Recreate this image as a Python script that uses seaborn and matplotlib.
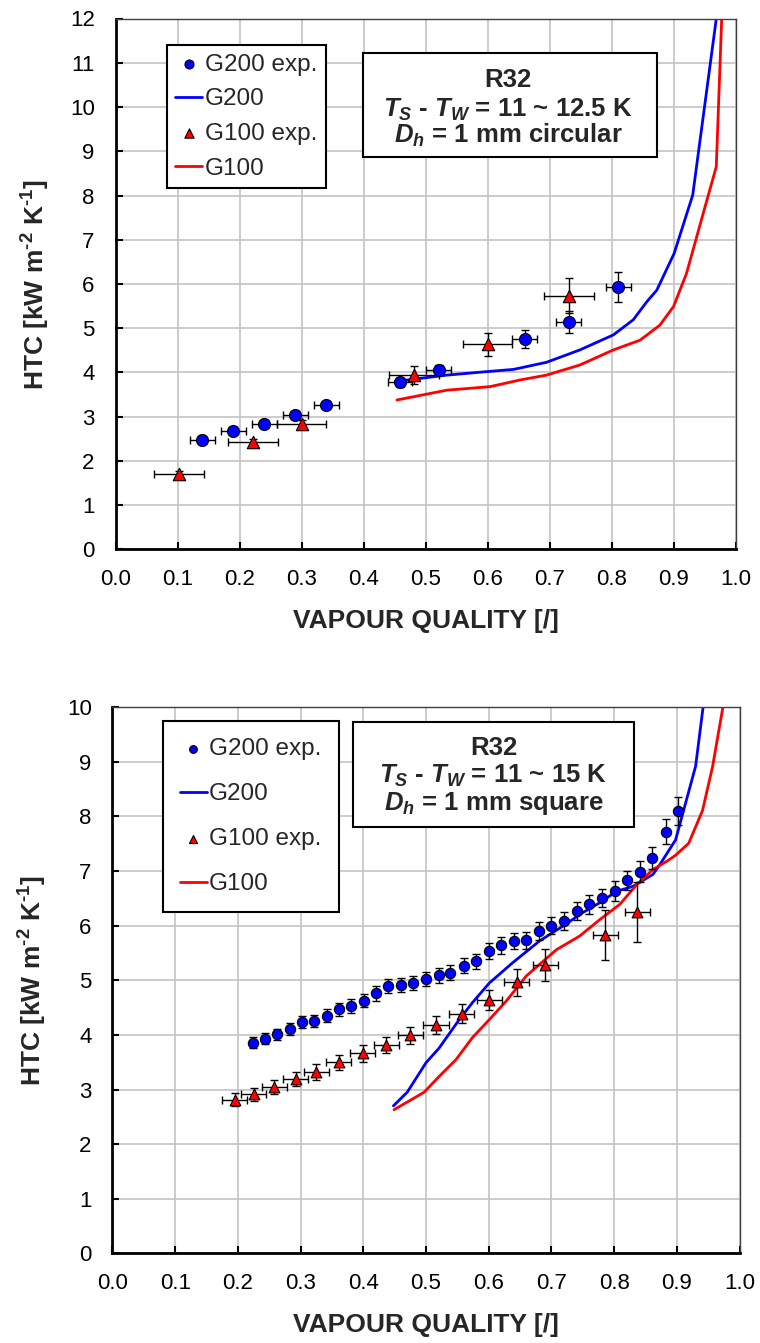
import matplotlib
matplotlib.use("Agg")
import matplotlib.pyplot as plt
import seaborn as sns
from matplotlib.patches import Rectangle

# ---------------- Top panel: Dh = 1 mm circular ----------------
top_g200_exp_x = [0.140, 0.190, 0.240, 0.290, 0.340, 0.459, 0.521, 0.660, 0.731, 0.811]
top_g200_exp_y = [2.48, 2.68, 2.84, 3.05, 3.27, 3.78, 4.06, 4.76, 5.15, 5.93]
top_g200_exp_xerr = [0.02, 0.02, 0.02, 0.02, 0.02, 0.02, 0.02, 0.02, 0.02, 0.02]
top_g200_exp_yerr = [0.08, 0.08, 0.08, 0.09, 0.09, 0.10, 0.10, 0.21, 0.25, 0.33]

top_g100_exp_x = [0.102, 0.222, 0.300, 0.481, 0.600, 0.731]
top_g100_exp_y = [1.71, 2.42, 2.84, 3.94, 4.64, 5.74]
top_g100_exp_xerr = [0.04, 0.04, 0.04, 0.04, 0.04, 0.04]
top_g100_exp_yerr = [0.07, 0.08, 0.09, 0.20, 0.26, 0.40]

top_g200_x = [0.456, 0.470, 0.534, 0.599, 0.642, 0.695, 0.749, 0.803, 0.835, 0.857, 0.873, 0.901, 0.931, 0.950, 0.970]
top_g200_y = [3.79, 3.83, 3.94, 4.02, 4.07, 4.23, 4.51, 4.85, 5.19, 5.60, 5.86, 6.69, 8.01, 10.0, 12.1]

top_g100_x = [0.454, 0.480, 0.534, 0.604, 0.652, 0.695, 0.749, 0.803, 0.846, 0.878, 0.900, 0.921, 0.948, 0.969, 0.978]
top_g100_y = [3.38, 3.45, 3.60, 3.68, 3.83, 3.94, 4.17, 4.51, 4.73, 5.07, 5.49, 6.24, 7.60, 8.65, 12.1]

# ---------------- Bottom panel: Dh = 1 mm square ----------------
bot_g200_exp_x = [0.224, 0.244, 0.263, 0.283, 0.302, 0.322, 0.342, 0.361, 0.381, 0.401,
                  0.420, 0.440, 0.460, 0.480, 0.500, 0.520, 0.539, 0.560, 0.580, 0.600,
                  0.620, 0.640, 0.660, 0.680, 0.700, 0.720, 0.741, 0.760, 0.781, 0.801,
                  0.821, 0.841, 0.861, 0.882, 0.902]
bot_g200_exp_y = [3.86, 3.93, 4.01, 4.10, 4.23, 4.26, 4.35, 4.47, 4.53, 4.63,
                  4.76, 4.89, 4.91, 4.95, 5.03, 5.09, 5.14, 5.27, 5.35, 5.54,
                  5.64, 5.72, 5.73, 5.90, 6.00, 6.09, 6.27, 6.39, 6.51, 6.63,
                  6.83, 6.99, 7.24, 7.72, 8.10]
bot_g200_exp_yerr = [0.10, 0.10, 0.10, 0.11, 0.11, 0.11, 0.12, 0.12, 0.12, 0.12,
                     0.13, 0.13, 0.13, 0.13, 0.13, 0.14, 0.14, 0.14, 0.14, 0.15,
                     0.15, 0.15, 0.15, 0.16, 0.16, 0.16, 0.17, 0.17, 0.17, 0.18,
                     0.18, 0.19, 0.20, 0.23, 0.25]

bot_g100_exp_x = [0.195, 0.225, 0.258, 0.292, 0.325, 0.361, 0.399, 0.437, 0.475, 0.516,
                  0.557, 0.601, 0.645, 0.690, 0.786, 0.837]
bot_g100_exp_y = [2.81, 2.91, 3.05, 3.19, 3.32, 3.50, 3.66, 3.82, 3.99, 4.18,
                  4.39, 4.64, 4.96, 5.28, 5.83, 6.25]
bot_g100_exp_xerr = [0.02] * 16
bot_g100_exp_yerr = [0.12, 0.12, 0.13, 0.13, 0.14, 0.14, 0.15, 0.15, 0.16, 0.17,
                     0.18, 0.18, 0.24, 0.30, 0.45, 0.55]

bot_g200_x = [0.448, 0.470, 0.500, 0.521, 0.553, 0.574, 0.601, 0.638, 0.681, 0.718,
              0.750, 0.777, 0.804, 0.830, 0.862, 0.873, 0.898, 0.930, 0.943]
bot_g200_y = [2.70, 2.95, 3.49, 3.76, 4.28, 4.59, 4.95, 5.32, 5.72, 5.99,
              6.24, 6.42, 6.63, 6.72, 6.94, 7.12, 7.57, 8.92, 10.1]

bot_g100_x = [0.449, 0.470, 0.497, 0.521, 0.548, 0.574, 0.601, 0.628, 0.660, 0.708,
              0.745, 0.777, 0.809, 0.836, 0.862, 0.884, 0.898, 0.919, 0.941, 0.957, 0.975]
bot_g100_y = [2.63, 2.77, 2.95, 3.24, 3.55, 3.95, 4.28, 4.62, 5.08, 5.56,
              5.81, 6.11, 6.39, 6.75, 7.03, 7.18, 7.29, 7.51, 8.11, 8.91, 10.1]

x_ticks = [0.0, 0.1, 0.2, 0.3, 0.4, 0.5, 0.6, 0.7, 0.8, 0.9, 1.0]
x_ticklabels = ["0.0", "0.1", "0.2", "0.3", "0.4", "0.5", "0.6", "0.7", "0.8", "0.9", "1.0"]
labels = ["G200 exp.", "G200", "G100 exp.", "G100"]

BLUE = "#0000ff"
RED = "#ff0000"

sns.set_style("white")
plt.rcParams["font.family"] = ["Liberation Sans", "DejaVu Sans"]
plt.rcParams["mathtext.fontset"] = "custom"
plt.rcParams["mathtext.it"] = "Liberation Sans:italic:bold"
plt.rcParams["mathtext.bf"] = "Liberation Sans:bold"
plt.rcParams["mathtext.rm"] = "Liberation Sans:bold"
plt.rcParams["mathtext.default"] = "regular"

fig = plt.figure(figsize=(7.6, 13.43), dpi=100)
ax1 = fig.add_axes([115.5 / 760, 1 - 549.5 / 1343, 620 / 760, 531 / 1343])
ax2 = fig.add_axes([112.5 / 760, 1 - 1253.3 / 1343, 627 / 760, 546 / 1343])


def draw_panel(ax, e200, e100, m200, m100, ymax, msize, tsize):
    x200, y200, xe200, ye200 = e200
    x100, y100, xe100, ye100 = e100
    sns.lineplot(x=m200[0], y=m200[1], ax=ax, color=BLUE, lw=2.0, label=labels[1],
                 sort=False, estimator=None, zorder=2)
    sns.lineplot(x=m100[0], y=m100[1], ax=ax, color=RED, lw=2.0, label=labels[3],
                 sort=False, estimator=None, zorder=2)
    ax.errorbar(x200, y200, xerr=xe200, yerr=ye200, fmt="none", ecolor="black",
                elinewidth=1.0, capsize=3, capthick=1.0, zorder=3)
    ax.errorbar(x100, y100, xerr=xe100, yerr=ye100, fmt="none", ecolor="black",
                elinewidth=1.0, capsize=3, capthick=1.0, zorder=3)
    sns.scatterplot(x=x200, y=y200, ax=ax, marker="o", s=msize, color=BLUE,
                    edgecolor="black", linewidth=0.8, label=labels[0], zorder=4)
    sns.scatterplot(x=x100, y=y100, ax=ax, marker="^", s=tsize, color=RED,
                    edgecolor="black", linewidth=0.8, label=labels[2], zorder=4)

    ax.set_xlim(0, 1.0)
    ax.set_ylim(0, ymax)
    ax.set_xticks(x_ticks)
    ax.set_xticklabels(x_ticklabels)
    ax.set_yticks(list(range(0, ymax + 1)))
    ax.set_yticklabels([str(v) for v in range(0, ymax + 1)])
    ax.set_axisbelow(True)
    ax.grid(True, color="#c4c4c4", lw=1.2)
    ax.tick_params(axis="both", direction="in", length=5, width=1.5, labelsize=16,
                   colors="black", left=True, bottom=True, top=False, right=False)
    ax.tick_params(axis="x", pad=14)
    ax.tick_params(axis="y", pad=15)
    for s in ["left", "bottom"]:
        ax.spines[s].set_color("black")
        ax.spines[s].set_linewidth(2.0)
    for s in ["top", "right"]:
        ax.spines[s].set_color("#404040")
        ax.spines[s].set_linewidth(1.0)
        ax.spines[s].set_visible(True)
    ax.set_xlabel("VAPOUR QUALITY [/]", fontsize=19, fontweight="bold", labelpad=14)
    ax.set_ylabel(r"HTC [kW m$^{\text{-}2}$ K$^{\text{-}1}$]", fontsize=19,
                  fontweight="bold", labelpad=13)


draw_panel(ax1,
           (top_g200_exp_x, top_g200_exp_y, top_g200_exp_xerr, top_g200_exp_yerr),
           (top_g100_exp_x, top_g100_exp_y, top_g100_exp_xerr, top_g100_exp_yerr),
           (top_g200_x, top_g200_y), (top_g100_x, top_g100_y), 12, 75, 80)
draw_panel(ax2,
           (bot_g200_exp_x, bot_g200_exp_y, None, bot_g200_exp_yerr),
           (bot_g100_exp_x, bot_g100_exp_y, bot_g100_exp_xerr, bot_g100_exp_yerr),
           (bot_g200_x, bot_g200_y), (bot_g100_x, bot_g100_y), 10, 55, 60)


def make_legend(ax, anchor, borderpad, labelspacing):
    h, l = ax.get_legend_handles_labels()
    d = dict(zip(l, h))
    leg = ax.legend([d[k] for k in labels], labels, loc="upper left",
                    bbox_to_anchor=anchor, borderaxespad=0, fontsize=17.5,
                    frameon=True, fancybox=False, shadow=False, framealpha=1,
                    edgecolor="black", borderpad=borderpad, labelspacing=labelspacing,
                    handlelength=1.1, handletextpad=0.1, markerscale=0.75)
    leg.get_frame().set_linewidth(1.5)
    leg.set_zorder(6)


make_legend(ax1, (0.083, 0.950), 0.35, 0.52)
make_legend(ax2, (0.0805, 0.975), 0.7, 0.95)


def text_box(ax, x0, y0, x1, y1, xc, lines, baselines):
    ax.add_patch(Rectangle((x0, y0), x1 - x0, y1 - y0, transform=ax.transAxes,
                           facecolor="white", edgecolor="black", lw=1.5, zorder=7))
    for t, yb in zip(lines, baselines):
        ax.text(xc, yb, t, transform=ax.transAxes, ha="center", va="baseline",
                fontsize=18.5, fontweight="bold", zorder=8)


text_box(ax1, 0.399, 0.739, 0.873, 0.935, 0.633,
         ["R32", r"$\mathit{T_S}$ - $\mathit{T_W}$ = 11 ~ 12.5 K", r"$\mathit{D_h}$ = 1 mm circular"],
         [0.871, 0.8145, 0.7655])
text_box(ax2, 0.3836, 0.7808, 0.8317, 0.9731, 0.6077,
         ["R32", r"$\mathit{T_S}$ - $\mathit{T_W}$ = 11 ~ 15 K", r"$\mathit{D_h}$ = 1 mm square"],
         [0.913, 0.8613, 0.8119])

fig.savefig("out.png", dpi=100)
